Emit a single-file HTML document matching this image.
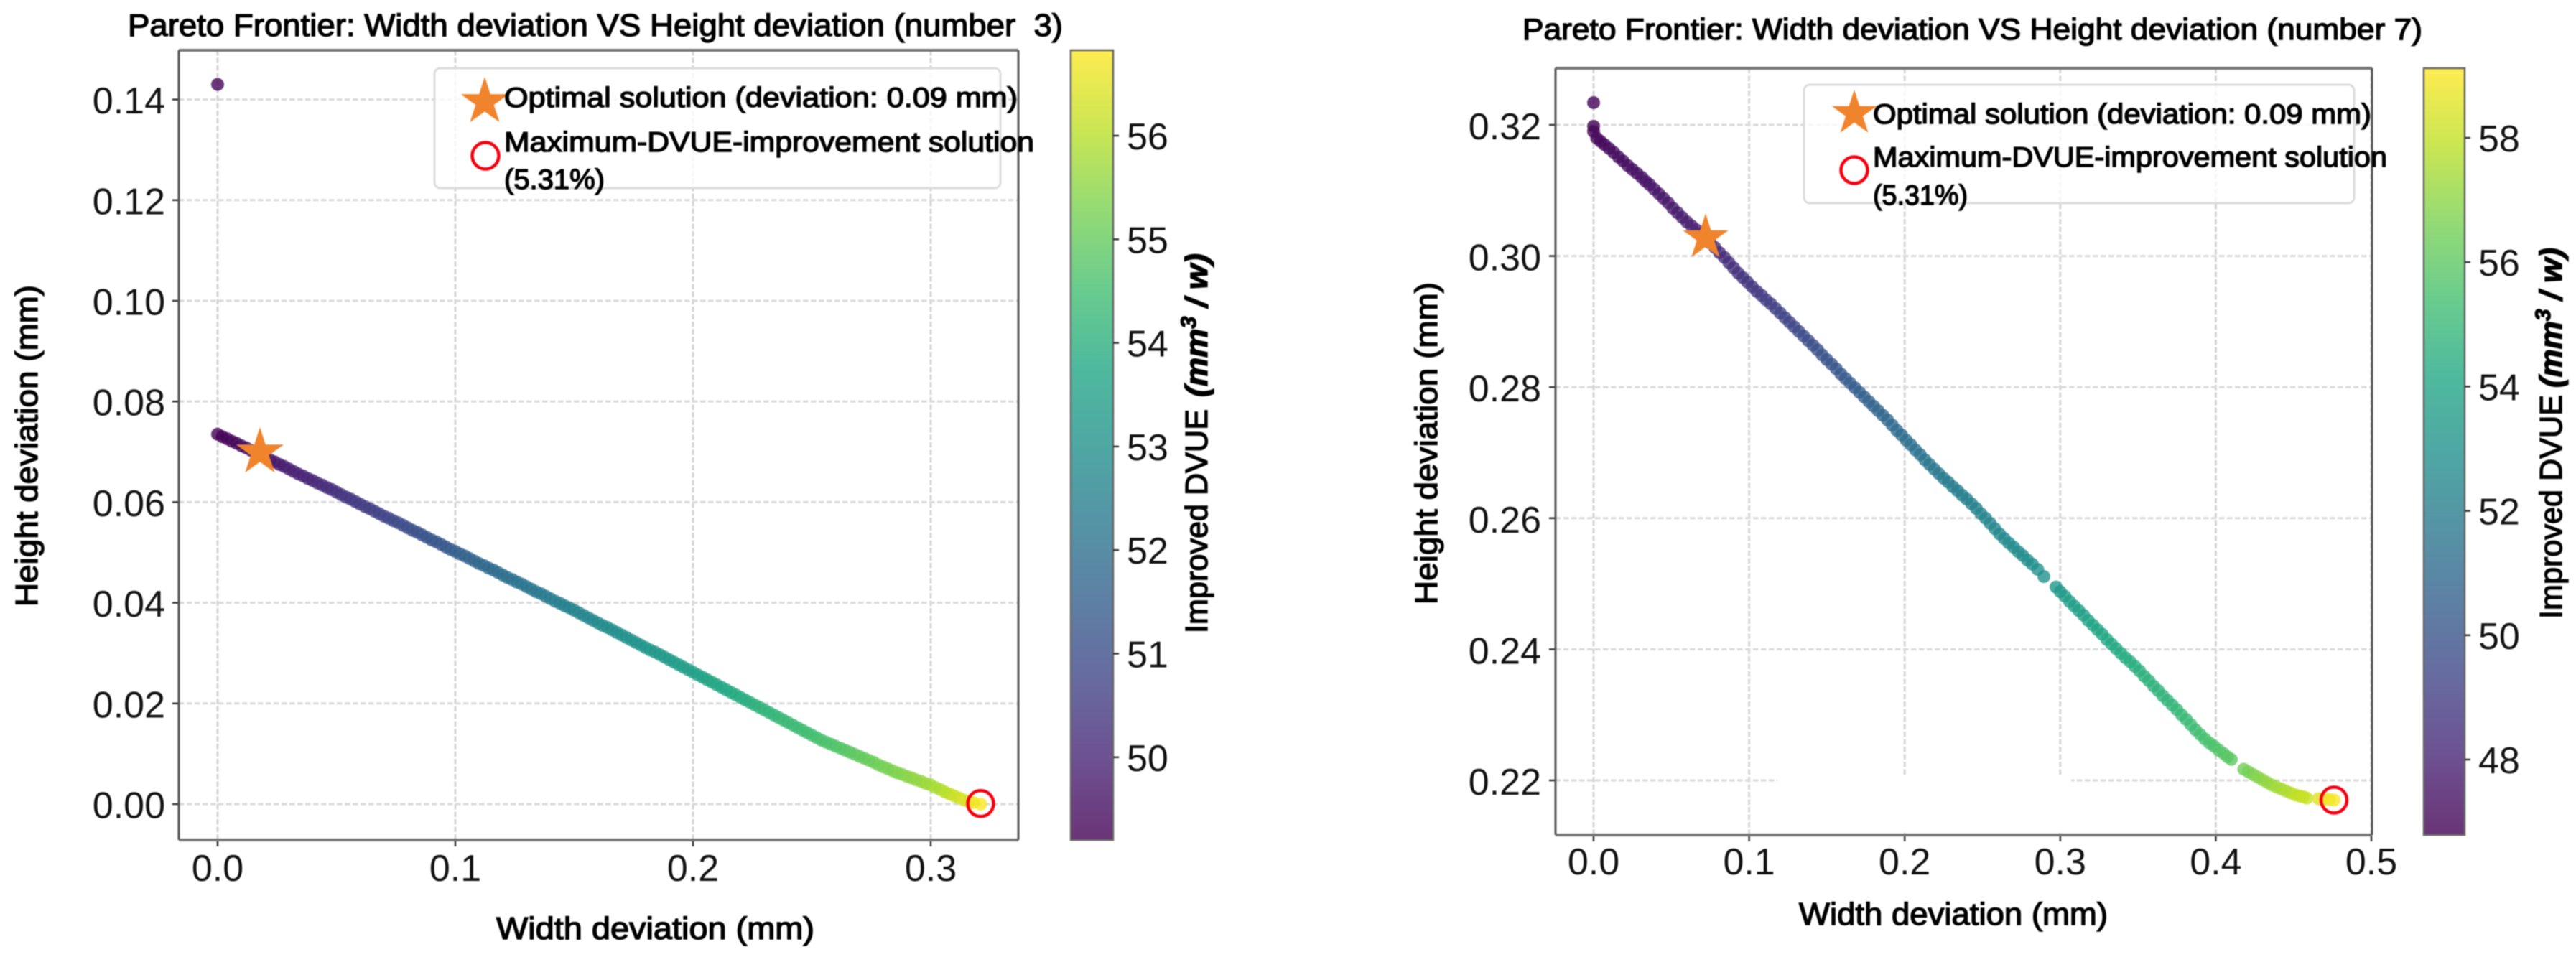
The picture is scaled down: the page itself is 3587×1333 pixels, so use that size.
<!DOCTYPE html>
<html lang="en">
<head>
<meta charset="utf-8">
<title>Pareto Frontier charts</title>
<style>
html,body{margin:0;padding:0;background:#fff;}
body{width:3587px;height:1333px;overflow:hidden;}
svg{display:block;filter:blur(0.8px);}
text{font-family:"Liberation Sans",sans-serif;fill:#000;}
.lbl{stroke:#000;stroke-width:1.4px;white-space:pre;}
.tick{font-size:52px;fill:#111;}
</style>
</head>
<body>
<svg id="figure" width="3587" height="1333" viewBox="0 0 3587 1333" xmlns="http://www.w3.org/2000/svg">
<defs>
<linearGradient id="viridis-gradient" x1="0" y1="1" x2="0" y2="0"></linearGradient>
</defs>
<rect width="3587" height="1333" fill="#fff"/>
<g id="panel3"></g>
<g id="panel7"></g>

<text class="lbl" x="178" y="50" font-size="44" textLength="1302" lengthAdjust="spacingAndGlyphs">Pareto Frontier: Width deviation VS Height deviation (number  3)</text>
<text class="lbl" x="691" y="1308" font-size="44" textLength="443" lengthAdjust="spacingAndGlyphs">Width deviation (mm)</text>
<text class="lbl" transform="translate(52,845) rotate(-90)" font-size="44" textLength="448" lengthAdjust="spacingAndGlyphs">Height deviation (mm)</text>
<text class="lbl" transform="translate(1681,882) rotate(-90)" font-size="44" textLength="312" lengthAdjust="spacingAndGlyphs">Improved DVUE</text>
<text class="lbl" transform="translate(1681,553) rotate(-90)" font-size="44" font-style="italic" font-weight="bold" textLength="200" lengthAdjust="spacingAndGlyphs">(mm<tspan font-size="30" dy="-16">3</tspan><tspan dy="16"> / w)</tspan></text>

<g>
<rect x="605" y="95" width="788" height="167" rx="8" fill="#fff" fill-opacity="0.8" stroke="#dcdcdc" stroke-width="3"/>
<polygon points="675,107 682.9,131.2 708.3,131.2 687.7,146.1 695.6,170.3 675,155.4 654.4,170.3 662.3,146.1 641.7,131.2 667.1,131.2" fill="#f0842c"/>
<circle cx="676" cy="217" r="18.5" fill="none" stroke="#f5000f" stroke-width="4.5"/>
<text class="lbl" x="702" y="149" font-size="39" textLength="715" lengthAdjust="spacingAndGlyphs">Optimal solution (deviation: 0.09 mm)</text>
<text class="lbl" x="702" y="211" font-size="39" textLength="738" lengthAdjust="spacingAndGlyphs">Maximum-DVUE-improvement solution</text>
<text class="lbl" x="702" y="263" font-size="39" textLength="140" lengthAdjust="spacingAndGlyphs">(5.31%)</text>
</g>

<text class="lbl" x="2120" y="55" font-size="42" textLength="1253" lengthAdjust="spacingAndGlyphs">Pareto Frontier: Width deviation VS Height deviation (number 7)</text>
<text class="lbl" x="2505" y="1288" font-size="44" textLength="430" lengthAdjust="spacingAndGlyphs">Width deviation (mm)</text>
<text class="lbl" transform="translate(2001,842) rotate(-90)" font-size="44" textLength="449" lengthAdjust="spacingAndGlyphs">Height deviation (mm)</text>
<text class="lbl" transform="translate(3567,862) rotate(-90)" font-size="44" textLength="312" lengthAdjust="spacingAndGlyphs">Improved DVUE</text>
<text class="lbl" transform="translate(3567,540) rotate(-90)" font-size="44" font-style="italic" font-weight="bold" textLength="195" lengthAdjust="spacingAndGlyphs">(mm<tspan font-size="30" dy="-16">3</tspan><tspan dy="16"> / w)</tspan></text>

<g>
<rect x="2512" y="118" width="766" height="165" rx="8" fill="#fff" fill-opacity="0.8" stroke="#dcdcdc" stroke-width="3"/>
<polygon points="2582,125 2589.4,147.8 2613.4,147.8 2594,161.9 2601.4,184.7 2582,170.6 2562.6,184.7 2570,161.9 2550.6,147.8 2574.6,147.8" fill="#f0842c"/>
<circle cx="2582" cy="237" r="18.5" fill="none" stroke="#f5000f" stroke-width="4.5"/>
<text class="lbl" x="2608" y="172" font-size="39" textLength="694" lengthAdjust="spacingAndGlyphs">Optimal solution (deviation: 0.09 mm)</text>
<text class="lbl" x="2608" y="232" font-size="39" textLength="716" lengthAdjust="spacingAndGlyphs">Maximum-DVUE-improvement solution</text>
<text class="lbl" x="2608" y="285" font-size="39" textLength="132" lengthAdjust="spacingAndGlyphs">(5.31%)</text>
</g>
</svg>

<script>
// Chart number 3 data
const width3 = [
0,.004,.008,.012,.016,.02,.024,.028,.032,.036,
.04,.044,.048,.052,.056,.06,.064,.068,.072,.076,
.08,.084,.088,.092,.096,.1,.104,.108,.112,.116,
.12,.124,.128,.132,.136,.14,.144,.148,.152,.156,
.16,.164,.168,.172,.176,.18,.184,.188,.192,.196,
.2,.204,.208,.212,.216,.22,.224,.228,.232,.236,
.24,.244,.248,.252,.256,.26,.264,.268,.272,.276,
.28,.284,.288,.292,.296,.3,.304,.308,.312,.316,
.321,0,
.002,.006,.01,.014,.018,.022,.026,.03,.034,.038,
.042,.046,.05,.054,.058,.062,.066,.07,.074,.078,
.082,.086,.09,.094,.098,.102,.106,.11,.114,.118,
.122,.126,.13,.134,.138,.142,.146,.15,.154,.158,
.162,.166,.17,.174,.178,.182,.186,.19,.194,.198,
.202,.206,.21,.214,.218,.222,.226,.23,.234,.238,
.242,.246,.25,.254,.258,.262,.266,.27,.274,.278,
.282,.286,.29,.294,.298,.302,.306,.31,.314,.318];
const height3 = [
.0735,.0726,.0717,.0708,.0698,.0689,.068,.0671,.0661,.0652,
.0643,.0634,.0625,.0615,.0606,.0596,.0587,.0577,.0568,.0559,
.0549,.054,.053,.0521,.0511,.0502,.0493,.0483,.0474,.0465,
.0455,.0446,.0437,.0427,.0418,.0408,.0399,.039,.038,.037,
.036,.0351,.0341,.0331,.0321,.0311,.0302,.0292,.0282,.0272,
.0262,.0252,.0242,.0232,.0222,.0212,.0202,.0192,.0182,.0172,
.0162,.0152,.0142,.0132,.0123,.0115,.0107,.0099,.0091,.0083,
.0074,.0066,.0059,.0052,.0045,.0038,.0029,.002,.0012,.0005,
0,.143,
.073,.0721,.0712,.0703,.0693,.0684,.0675,.0666,.0656,.0647,
.0638,.0629,.062,.061,.0601,.0591,.0582,.0572,.0563,.0554,
.0544,.0535,.0525,.0516,.0506,.0497,.0488,.0478,.0469,.046,
.045,.0441,.0432,.0422,.0413,.0403,.0394,.0385,.0375,.0365,
.0355,.0346,.0336,.0326,.0316,.0306,.0297,.0287,.0277,.0267,
.0257,.0247,.0237,.0227,.0217,.0207,.0197,.0187,.0177,.0167,
.0157,.0147,.0137,.0127,.0119,.0111,.0103,.0095,.0087,.0078,
.007,.0062,.0055,.0048,.0041,.0033,.0024,.0016,.0008,.0003];
const dvue3 = [
49.2,49.3,49.4,49.5,49.55,49.65,49.7,49.8,49.9,50,
50.05,50.15,50.2,50.35,50.45,50.5,50.6,50.7,50.8,50.9,
51,51.1,51.2,51.25,51.35,51.5,51.6,51.7,51.75,51.85,
51.95,52.05,52.15,52.2,52.3,52.4,52.45,52.55,52.65,52.7,
52.8,52.85,52.95,53,53.1,53.15,53.2,53.3,53.35,53.45,
53.5,53.6,53.7,53.75,53.85,53.9,54,54.1,54.15,54.25,
54.3,54.4,54.45,54.55,54.65,54.7,54.8,54.9,55,55.1,
55.2,55.3,55.4,55.5,55.6,55.75,55.9,56.1,56.3,56.5,
56.82,49.3,
49.25,49.35,49.45,49.52,49.6,49.68,49.75,49.85,49.95,50.02,
50.1,50.18,50.28,50.4,50.48,50.55,50.65,50.75,50.85,50.95,
51.05,51.15,51.22,51.3,51.42,51.55,51.65,51.72,51.8,51.9,
52,52.1,52.18,52.25,52.35,52.42,52.5,52.6,52.68,52.75,
52.82,52.9,52.98,53.05,53.12,53.18,53.25,53.32,53.4,53.48,
53.55,53.65,53.72,53.8,53.88,53.95,54.05,54.12,54.2,54.28,
54.35,54.42,54.5,54.6,54.68,54.75,54.85,54.95,55.05,55.15,
55.25,55.35,55.45,55.55,55.68,55.82,56,56.2,56.4,56.65];
const xTicks3 = ["0.0","0.1","0.2","0.3"];
const yTicks3 = ["0.00","0.02","0.04","0.06","0.08","0.10","0.12","0.14"];
const cTicks3 = ["50","51","52","53","54","55","56"];
const optimal3 = [0.0178, 0.0699];
const maximum3 = [0.321, 0.0001];

// Chart number 7 data
const width7 = [
0,0,.002,.007,.013,.019,.025,.031,.036,.042,
.048,.054,.06,.066,.072,.078,.084,.09,.096,.102,
.108,.114,.12,.126,.132,.138,.144,.15,.156,.162,
.168,.174,.18,.186,.192,.198,.204,.21,.216,.222,
.228,.234,.24,.246,.252,.258,.264,.27,.276,.282,
.2895,.2973,.303,.309,.315,.321,.327,.333,.339,.345,
.351,.357,.363,.369,.375,.381,.387,.393,.399,.405,
.41,.418,.424,.43,.436,.442,.448,.454,.4585,.466,
.47,.476,0,
.0045,.01,.016,.022,.028,.0335,.039,.045,.051,.057,
.063,.069,.075,.081,.087,.093,.099,.105,.111,.117,
.123,.129,.135,.141,.147,.153,.159,.165,.171,.177,
.183,.189,.195,.201,.207,.213,.219,.225,.231,.237,
.243,.249,.255,.261,.267,.273,.279,.2855,.306,.312,
.318,.324,.33,.336,.342,.348,.354,.36,.366,.372,
.378,.384,.39,.396,.402,.4075,.421,.427,.433,.439,
.445,.451,.4562,.473,.3];
const height7 = [
.3198,.319,.318,.317,.3158,.3145,.3132,.312,.3109,.3095,
.3081,.3066,.3052,.304,.3028,.3013,.2998,.2982,.2967,.2953,
.294,.2927,.2913,.2899,.2885,.2871,.2857,.2842,.2828,.2813,
.2799,.2785,.2771,.2757,.2742,.2727,.2712,.2697,.2682,.2668,
.2655,.2642,.2629,.2615,.26,.2584,.2569,.2556,.2543,.253,
.2511,.2495,.2481,.2466,.2452,.2437,.2423,.2408,.2394,.2381,
.2367,.2352,.2337,.2322,.2308,.2293,.2277,.2263,.2252,.2241,
.2232,.2217,.2209,.2201,.2193,.2187,.2181,.2176,.2173,.2172,
.2171,.217,.3234,
.3175,.3164,.3151,.3138,.3126,.3114,.3102,.3088,.3073,.3059,
.3046,.3034,.302,.3005,.299,.2974,.296,.2946,.2933,.292,
.2906,.2892,.2878,.2864,.2849,.2835,.282,.2806,.2792,.2778,
.2764,.275,.2734,.2719,.2704,.2689,.2675,.2661,.2648,.2635,
.2622,.2607,.2592,.2576,.2562,.2549,.2536,.2522,.2473,.2459,
.2444,.243,.2415,.2401,.2387,.2374,.2359,.2344,.2329,.2315,
.23,.2285,.227,.2257,.2246,.2236,.2213,.2205,.2197,.219,
.2184,.2178,.2175,.2171,.2488];
const dvue7 = [
46.9,46.95,47,47.05,47.15,47.25,47.3,47.4,47.5,47.55,
47.65,47.75,47.85,47.95,48.05,48.2,48.35,48.5,48.65,48.8,
48.95,49.1,49.25,49.4,49.55,49.7,49.85,50,50.15,50.3,
50.45,50.6,50.75,50.9,51.05,51.2,51.35,51.5,51.65,51.8,
51.9,52,52.15,52.25,52.4,52.5,52.6,52.7,52.75,52.85,
53,53.3,53.5,53.65,53.8,53.95,54.1,54.25,54.35,54.45,
54.55,54.65,54.75,54.85,54.95,55.1,55.25,55.45,55.65,55.85,
56,56.4,56.7,57,57.25,57.5,57.75,58,58.15,58.5,
58.8,59.05,46.9,
47,47.1,47.2,47.27,47.35,47.45,47.52,47.6,47.7,47.8,
47.9,48,48.12,48.28,48.42,48.58,48.72,48.88,49.02,49.18,
49.32,49.48,49.62,49.78,49.92,50.08,50.22,50.38,50.52,50.68,
50.82,50.98,51.12,51.28,51.42,51.58,51.72,51.85,51.95,52.08,
52.2,52.32,52.45,52.55,52.65,52.72,52.8,52.92,53.58,53.72,
53.88,54.02,54.18,54.3,54.4,54.5,54.6,54.7,54.8,54.9,
55.02,55.18,55.35,55.55,55.75,55.92,56.55,56.85,57.12,57.38,
57.62,57.88,58.08,58.95,53.4];
const xTicks7 = ["0.0","0.1","0.2","0.3","0.4","0.5"];
const yTicks7 = ["0.22","0.24","0.26","0.28","0.30","0.32"];
const cTicks7 = ["48","50","52","54","56","58"];
const optimal7 = [0.072, 0.3028];
const maximum7 = [0.476, 0.217];

const viridisStops = ["#440154","#482475","#414487","#355f8d","#2a788e","#21918c","#22a884","#44bf70","#7ad151","#bddf26","#fde725"];

const NS = "http://www.w3.org/2000/svg";
function mk(tag, attrs, parent, text) {
  const el = document.createElementNS(NS, tag);
  for (const k in attrs) el.setAttribute(k, attrs[k]);
  if (text !== undefined) el.textContent = text;
  parent.appendChild(el);
  return el;
}
function hexRgb(h) {
  return [parseInt(h.slice(1,3),16), parseInt(h.slice(3,5),16), parseInt(h.slice(5,7),16)];
}
function viridis(t) {
  t = Math.max(0, Math.min(1, t));
  const p = t * (viridisStops.length - 1);
  const i = Math.min(Math.floor(p), viridisStops.length - 2);
  const a = hexRgb(viridisStops[i]), b = hexRgb(viridisStops[i + 1]), f = p - i;
  return "rgb(" + a.map(function (v, j) { return Math.round(v + (b[j] - v) * f); }).join(",") + ")";
}
function starPoints(cx, cy, R) {
  const pts = [];
  for (let i = 0; i < 10; i++) {
    const r = i % 2 ? R * 0.382 : R;
    const a = -Math.PI / 2 + i * Math.PI / 5;
    pts.push((cx + r * Math.cos(a)).toFixed(1) + "," + (cy + r * Math.sin(a)).toFixed(1));
  }
  return pts.join(" ");
}

const gradient = document.getElementById("viridis-gradient");
viridisStops.forEach(function (c, i) {
  mk("stop", {offset: i / (viridisStops.length - 1), "stop-color": c, "stop-opacity": 0.8}, gradient);
});

function drawPanel(cfg) {
  const g = document.getElementById(cfg.id);
  const sx = function (v) { return cfg.x0 + v * cfg.xScale; };
  const sy = function (v) { return cfg.yRef + (cfg.yRefVal - v) * cfg.yScale; };
  const sc = function (v) { return cfg.cRef + (cfg.cRefVal - v) * cfg.cScale; };
  const norm = function (v) { return (v - cfg.cMin) / (cfg.cMax - cfg.cMin); };

  cfg.xTicks.forEach(function (label) {
    const x = sx(parseFloat(label));
    const line = mk("line", {x1: x, x2: x, y1: cfg.top, y2: cfg.bottom, stroke: "#d4d4d4", "stroke-width": 3, "stroke-dasharray": "7.5 3"}, g);
    
    
    const tick = mk("line", {x1: x, x2: x, y1: cfg.bottom, y2: cfg.bottom + 9, stroke: "#333", "stroke-width": 2.5}, g);
    
    
    const t = mk("text", {x: x, y: cfg.xLabelY, "text-anchor": "middle", "class": "tick"}, g, label);
    
    
  });
  cfg.yTicks.forEach(function (label) {
    const y = sy(parseFloat(label));
    const line = mk("line", {x1: cfg.left, x2: cfg.right, y1: y, y2: y, stroke: "#dadada", "stroke-width": 3, "stroke-dasharray": "7.5 3.5"}, g);
    
    
    const tick = mk("line", {x1: cfg.left - 9, x2: cfg.left, y1: y, y2: y, stroke: "#333", "stroke-width": 2.5}, g);
    
    
    const t = mk("text", {x: cfg.yLabelX, y: y + cfg.yLabelDy, "text-anchor": "end", "class": "tick"}, g, label);
    
    
  });
  if (cfg.erase) {
    const patch = mk("rect", {x: cfg.erase[0], y: cfg.erase[1], width: cfg.erase[2], height: cfg.erase[3], fill: "#fff"}, g);
    
    
  }

  cfg.widths.forEach(function (w, i) {
    const dot = mk("circle", {cx: sx(w), cy: sy(cfg.heights[i]), r: 9, fill: viridis(norm(cfg.dvue[i])), "fill-opacity": 0.8}, g);
    
    
  });

  const star = mk("polygon", {points: starPoints(sx(cfg.optimal[0]), sy(cfg.optimal[1]), cfg.starR), fill: "#f0842c"}, g);
  
  
  const ring = mk("circle", {cx: sx(cfg.maximum[0]), cy: sy(cfg.maximum[1]), r: 18, fill: "none", stroke: "#f5000f", "stroke-width": 4.5}, g);
  
  

  const frameTop = mk("line", {x1: cfg.left, x2: cfg.right, y1: cfg.top, y2: cfg.top, stroke: "#777", "stroke-width": 4}, g);
  
  
  const frameBottom = mk("line", {x1: cfg.left, x2: cfg.right, y1: cfg.bottom, y2: cfg.bottom, stroke: "#777", "stroke-width": 4}, g);
  
  
  const frameLeft = mk("line", {x1: cfg.left, x2: cfg.left, y1: cfg.top, y2: cfg.bottom, stroke: "#555", "stroke-width": 3}, g);
  
  
  const frameRight = mk("line", {x1: cfg.right, x2: cfg.right, y1: cfg.top, y2: cfg.bottom, stroke: "#555", "stroke-width": 3}, g);
  
  

  const bar = mk("rect", {x: cfg.cbLeft, y: cfg.top, width: cfg.cbWidth, height: cfg.bottom - cfg.top, fill: "url(#viridis-gradient)", stroke: "#666", "stroke-width": 2.5}, g);
  
  
  cfg.cTicks.forEach(function (label) {
    const y = sc(parseFloat(label));
    const tick = mk("line", {x1: cfg.cbLeft + cfg.cbWidth, x2: cfg.cbLeft + cfg.cbWidth + 8, y1: y, y2: y, stroke: "#333", "stroke-width": 2.5}, g);
    
    
    const t = mk("text", {x: cfg.cbLeft + cfg.cbWidth + 19, y: y + 19, "class": "tick"}, g, label);
    
    
  });
}

drawPanel({
  id: "panel3", left: 249, right: 1418, top: 70, bottom: 1170,
  x0: 303, xScale: 3310, yRef: 1120, yRefVal: 0, yScale: 7010,
  cRef: 189, cRefVal: 56, cScale: 144.3, cMin: 49.2, cMax: 56.82,
  cbLeft: 1491, cbWidth: 59, xLabelY: 1227, yLabelX: 230, yLabelDy: 19.5,
  widths: width3, heights: height3, dvue: dvue3,
  xTicks: xTicks3, yTicks: yTicks3, cTicks: cTicks3,
  optimal: optimal3, maximum: maximum3, starR: 35
});
drawPanel({
  id: "panel7", left: 2166, right: 3303, top: 95, bottom: 1163,
  x0: 2219, xScale: 2166, yRef: 174, yRefVal: 0.32, yScale: 9130,
  cRef: 192, cRefVal: 58, cScale: 86.6, cMin: 46.79, cMax: 59.12,
  cbLeft: 3375, cbWidth: 57, xLabelY: 1218, yLabelX: 2146, yLabelDy: 20,
  widths: width7, heights: height7, dvue: dvue7,
  xTicks: xTicks7, yTicks: yTicks7, cTicks: cTicks7,
  optimal: optimal7, maximum: maximum7, starR: 33.6,
  erase: [2475, 1082, 409, 78]
});
</script>
</body>
</html>
